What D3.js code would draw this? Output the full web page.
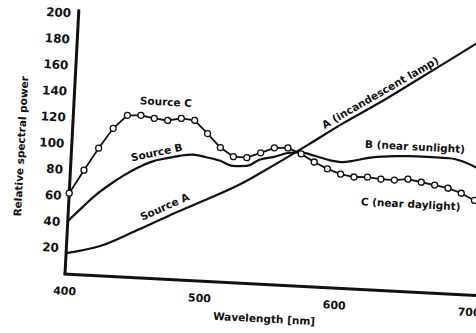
<!DOCTYPE html>
<html>
<head>
<meta charset="utf-8">
<script src="https://cdn.jsdelivr.net/npm/d3@7/dist/d3.min.js"></script>
<style>
  html, body { margin: 0; padding: 0; background: #fff; }
  svg { display: block; }
  text { font-family: "DejaVu Sans", sans-serif; font-weight: bold; fill: #111; }
</style>
</head>
<body>
<svg id="chart" width="476" height="333"></svg>
<script>
// Tick labels
const xTicks = [400, 500, 600, 700];
const yTicks = [20, 40, 60, 80, 100, 120, 140, 160, 180, 200];

// Source A (incandescent lamp)
const wlA = [400, 425, 450, 475, 500, 525, 550, 575, 600, 625, 650, 675, 700];
const sourceA = [16, 22.8, 35.5, 49, 61.8, 75, 91.5, 108.8, 126.6, 143, 160.5, 178.3, 196.2];

// Source B (near sunlight)
const wlB = [400, 410, 420, 430, 440, 450, 460, 470, 480, 490, 500, 510, 520, 530, 540, 550,
             560, 570, 580, 590, 600, 610, 620, 630, 640, 650, 660, 670, 680, 690, 700];
const sourceB = [40.6, 51.5, 62, 70.5, 78, 84.5, 89.5, 92.5, 95, 96.5, 95, 93, 89.5, 90, 95.5, 98,
                 101.5, 102.5, 100.5, 98, 96.7, 98.5, 101, 102.5, 103.5, 104, 104.2, 104.2, 104, 102, 98];

// Source C (near daylight), sampled every 10 nm
const wlC = [400, 410, 420, 430, 440, 450, 460, 470, 480, 490, 500, 510, 520, 530, 540, 550,
             560, 570, 580, 590, 600, 610, 620, 630, 640, 650, 660, 670, 680, 690, 700];
const sourceC = [62, 80.2, 97.6, 113.4, 123.9, 124.5, 122.7, 121.6, 123.7, 122.7, 113.2, 103, 96.5, 96.3, 100.6, 104.9,
                 105.4, 101.4, 95.7, 91, 87.5, 85.8, 86.3, 85.3, 85.1, 86.3, 84.5, 82.8, 81, 77.7, 72.7];

const svg = d3.select("#chart");

const x = d3.scaleLinear().domain([400, 700]).range([0, 405]);
const y = d3.scaleLinear().domain([0, 200]).range([0, -261]);

// Plot frame sits slightly tilted on the page
const g = svg.append("g").attr("transform", "translate(65,274) rotate(3)");

// Axes
const yAxis = d3.axisLeft(y).tickValues(yTicks).tickSize(0).tickPadding(7.5).tickFormat(d3.format("d"));
const yG = g.append("g").call(yAxis);
yG.select(".domain").remove();
yG.selectAll("text").style("font-size", "12px").style("font-family", "DejaVu Sans").style("font-weight", "bold");

const xAxis = d3.axisBottom(x).tickValues(xTicks).tickSize(0).tickPadding(13).tickFormat(d3.format("d"));
const xG = g.append("g").call(xAxis);
xG.select(".domain").remove();
xG.selectAll("text").style("font-size", "11px").style("font-family", "DejaVu Sans").style("font-weight", "bold");

g.append("line")
  .attr("x1", 0).attr("y1", 0).attr("x2", 0).attr("y2", y(203))
  .attr("stroke", "#111").attr("stroke-width", 3);
g.append("line")
  .attr("x1", -1.5).attr("y1", 0).attr("x2", x(730)).attr("y2", 0)
  .attr("stroke", "#111").attr("stroke-width", 3);

// Axis titles
g.append("text")
  .attr("transform", `translate(-51,${y(96)}) rotate(-90)`)
  .attr("text-anchor", "middle")
  .attr("dominant-baseline", "central")
  .style("font-size", "10.5px")
  .text("Relative spectral power");

g.append("text")
  .attr("x", x(549)).attr("y", 34)
  .attr("text-anchor", "middle")
  .attr("dominant-baseline", "central")
  .style("font-size", "10.5px")
  .text("Wavelength [nm]");

// Curves
const smooth = d3.line().x(d => x(d[0])).y(d => y(d[1])).curve(d3.curveMonotoneX);
const straight = d3.line().x(d => x(d[0])).y(d => y(d[1]));

const dataA = wlA.map((w, i) => [w, sourceA[i]]);
const dataB = wlB.map((w, i) => [w, sourceB[i]]);
const dataC = wlC.map((w, i) => [w, sourceC[i]]);

g.append("path").datum(dataA).attr("d", smooth)
  .attr("fill", "none").attr("stroke", "#111").attr("stroke-width", 2.2);
g.append("path").datum(dataB).attr("d", smooth)
  .attr("fill", "none").attr("stroke", "#111").attr("stroke-width", 2.2);
g.append("path").datum(dataC).attr("d", straight)
  .attr("fill", "none").attr("stroke", "#111").attr("stroke-width", 1.8);

g.selectAll("circle.c").data(dataC).join("circle")
  .attr("class", "c")
  .attr("cx", d => x(d[0])).attr("cy", d => y(d[1]))
  .attr("r", 3)
  .attr("fill", "#fff").attr("stroke", "#111").attr("stroke-width", 1.3);

// Curve labels: [wavelength, value, rotation, text]
const labels = [
  [468, 136, 0, "Source C"],
  [463, 97, -15, "Source B"],
  [471, 55.7, -27, "Source A"],
  [626, 151.7, -33, "A (incandescent lamp)"],
  [654, 111.7, 0, "B (near sunlight)"],
  [653, 67.6, 0, "C (near daylight)"]
];
g.selectAll("text.lbl").data(labels).join("text")
  .attr("class", "lbl")
  .attr("transform", d => `translate(${x(d[0])},${y(d[1])}) rotate(${d[2]})`)
  .attr("text-anchor", "middle")
  .attr("dominant-baseline", "central")
  .style("font-size", (d, i) => i < 3 ? "10.5px" : "10.5px")
  .text(d => d[3]);
</script>
</body>
</html>
